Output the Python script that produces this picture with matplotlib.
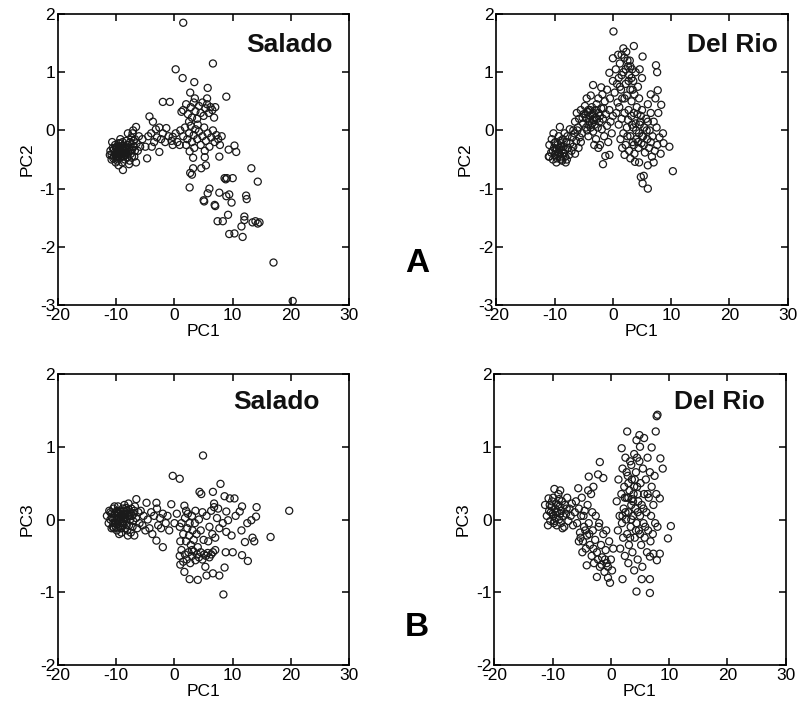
import numpy as np
import matplotlib.pyplot as plt

plt.rcParams['font.family'] = ['Liberation Sans', 'DejaVu Sans']
plt.rcParams['axes.unicode_minus'] = False

# Salado, PC1 vs PC2
sal_pc2 = [
    (-11.0,-0.35),(-10.8,-0.42),(-10.6,-0.30),(-10.5,-0.48),(-10.3,-0.38),(-10.2,-0.25),(-10.0,-0.45),
    (-9.9,-0.33),(-9.8,-0.52),(-9.7,-0.40),(-9.6,-0.28),(-9.5,-0.36),(-9.4,-0.47),(-9.3,-0.22),(-9.2,-0.41),
    (-9.1,-0.31),(-9.0,-0.55),(-8.9,-0.38),(-8.8,-0.45),(-8.7,-0.27),(-8.6,-0.35),(-8.5,-0.50),(-8.4,-0.42),
    (-8.3,-0.18),(-8.2,-0.33),(-8.1,-0.46),(-8.0,-0.25),(-7.9,-0.38),(-7.8,-0.30),(-7.7,-0.52),(-7.6,-0.20),
    (-7.5,-0.40),(-7.4,-0.12),(-7.3,-0.33),(-7.2,-0.05),(-7.0,-0.28),(-6.9,-0.45),(-6.8,-0.15),(-6.6,0.06),
    (-6.6,-0.55),(-6.5,-0.22),(-6.3,-0.35),(-6.1,-0.10),(-5.9,-0.28),(-9.6,-0.60),(-8.85,-0.68),(-10.1,-0.55),
    (-9.3,-0.15),(-8.0,-0.05),(-7.1,0.0),(-7.8,-0.58),(-10.7,-0.20),(-9.0,-0.30),(-8.6,-0.40),(-9.8,-0.38),
    (-10.4,-0.33),(-10.1,-0.40),(-9.9,-0.28),(-9.7,-0.45),(-9.5,-0.30),(-9.4,-0.40),(-9.2,-0.35),(-9.1,-0.45),
    (-8.9,-0.30),(-8.7,-0.40),(-8.5,-0.32),(-8.3,-0.38),(-8.2,-0.25),(-8.9,-0.20),(-9.6,-0.22),(-10.0,-0.30),
    (-10.4,-0.45),(-9.9,-0.48),(-9.0,-0.40),(-8.4,-0.30),(-7.6,-0.35),(-7.3,-0.45),(-7.0,-0.18),(-6.8,-0.35),
    (-10.8,-0.50),(-11.1,-0.42),
    (-5.5,-0.15),(-5.0,-0.28),(-4.7,-0.48),(-4.5,-0.10),(-4.3,0.24),(-4.0,-0.05),(-3.9,-0.28),(-3.7,0.15),
    (-3.5,-0.20),(-3.2,0.02),(-3.0,-0.12),(-2.6,0.05),(-2.6,-0.37),(-2.3,-0.15),(-2.0,0.49),(-2.0,-0.05),
    (-1.6,-0.20),(-1.4,0.04),(-1.0,-0.10),(-0.8,0.49),(-0.5,-0.18),(-0.3,-0.11),(-0.3,-0.25),(0.2,-0.05),
    (0.5,-0.20),(0.9,-0.25),(1.0,0.0),
    (1.5,1.85),(6.6,1.15),(0.2,1.05),(1.4,0.9),(3.4,0.83),(5.7,0.73),(2.7,0.65),(8.9,0.58),
    (1.5,0.35),(2.0,0.45),(2.3,0.28),(2.8,0.40),(3.0,0.22),(3.3,0.48),(3.6,0.33),(3.9,0.20),(4.2,0.42),
    (4.5,0.30),(4.8,0.48),(5.0,0.25),(5.3,0.38),(5.6,0.45),(5.9,0.30),(6.2,0.40),(6.5,0.35),(6.8,0.22),
    (7.0,0.40),(3.5,0.55),(5.6,0.55),(2.5,0.15),(1.2,0.32),
    (1.5,-0.10),(1.8,0.05),(2.2,-0.15),(2.5,-0.05),(2.8,0.08),(3.0,-0.20),(3.3,-0.08),(3.6,0.02),(3.9,-0.15),
    (4.2,-0.02),(4.5,-0.25),(4.8,-0.10),(5.1,0.05),(5.4,-0.18),(5.7,-0.05),(6.0,-0.28),(6.3,-0.12),(6.6,0.0),
    (6.9,-0.20),(7.2,-0.08),(7.5,-0.15),(7.8,-0.25),(8.1,-0.10),(3.4,-0.30),(4.0,0.10),(5.2,-0.35),(2.0,-0.25),
    (10.3,-0.26),(10.6,-0.37),(9.3,-0.33),(7.7,-0.45),(2.6,-0.36),(3.2,-0.47),(5.2,-0.46),(5.4,-0.60),
    (3.2,-0.65),(4.6,-0.65),(2.7,-0.73),(3.0,-0.76),(13.2,-0.65),(14.3,-0.88),(8.6,-0.82),(9.0,-0.82),
    (8.8,-0.84),(10.0,-0.82),(2.6,-0.98),(6.0,-1.0),(5.7,-1.08),(7.7,-1.07),(8.9,-1.13),(9.4,-1.1),
    (12.3,-1.12),(12.4,-1.18),(5.0,-1.2),(5.1,-1.22),(6.9,-1.28),(7.0,-1.30),(9.8,-1.24),(7.4,-1.56),
    (8.3,-1.56),(9.2,-1.45),(12.0,-1.48),(12.0,-1.54),(13.4,-1.58),(13.9,-1.56),(14.3,-1.60),(14.6,-1.58),
    (11.5,-1.65),(9.4,-1.78),(10.3,-1.77),(11.7,-1.83),(17.0,-2.27),(20.3,-2.93),
]

# Del Rio, PC1 vs PC2
del_pc2 = [
    (-11.0,-0.45),(-10.9,-0.25),(-10.6,-0.38),(-10.5,-0.15),(-10.3,-0.50),(-10.1,-0.30),(-10.0,-0.42),
    (-9.9,-0.20),(-9.8,-0.35),(-9.6,-0.48),(-9.5,-0.25),(-9.4,-0.38),(-9.3,-0.10),(-9.2,-0.30),(-9.1,0.06),
    (-9.0,-0.45),(-8.9,-0.22),(-8.8,-0.35),(-8.7,-0.52),(-8.6,-0.15),(-8.5,-0.28),(-8.4,-0.40),(-8.3,-0.05),
    (-8.2,-0.33),(-8.0,-0.20),(-7.9,-0.50),(-7.8,-0.10),(-7.7,-0.30),(-7.5,-0.42),(-7.4,0.02),(-7.3,-0.22),
    (-7.1,-0.35),(-7.0,-0.12),(-6.8,-0.28),(-6.6,-0.05),(-6.5,-0.40),(-6.3,-0.18),(-6.1,0.0),(-5.9,-0.30),
    (-5.7,-0.12),(-10.9,-0.45),(-9.7,-0.55),(-8.9,-0.50),(-8.1,-0.55),(-10.2,-0.05),
    (-10.3,-0.35),(-9.9,-0.42),(-9.6,-0.32),(-9.2,-0.40),(-8.8,-0.28),(-8.5,-0.38),(-9.0,-0.18),(-10.0,-0.22),
    (-8.2,-0.45),
    (-6.5,0.15),(-6.2,0.30),(-6.0,0.05),(-5.8,0.20),(-5.5,0.35),(-5.3,-0.05),(-5.1,0.12),(-5.0,0.28),
    (-4.8,0.42),(-4.6,0.05),(-4.5,0.20),(-4.3,0.32),(-4.2,-0.10),(-4.0,0.15),(-3.9,0.25),(-3.8,0.05),
    (-3.6,0.40),(-3.5,0.18),(-3.4,-0.02),(-3.3,0.30),(-3.1,0.10),(-3.0,0.22),(-2.9,-0.15),(-2.8,0.45),
    (-2.6,0.05),(-2.5,0.30),(-2.3,0.15),(-2.2,-0.25),(-2.0,0.38),(-1.9,0.02),(-1.7,0.20),(-1.5,-0.10),
    (-1.4,0.50),(-1.2,0.28),(-1.0,0.08),(-0.8,-0.20),(-0.6,0.35),(-0.4,0.15),(-0.2,-0.05),(0.0,0.25),
    (-4.5,0.55),(-3.8,0.60),(-5.5,-0.20),(-6.8,0.0),(-2.5,-0.30),(-3.2,-0.25),(-1.7,-0.58),(-0.6,-0.42),
    (-1.3,-0.44),(-4.2,0.35),(-3.6,0.12),(-2.7,0.20),
    (-4.7,0.28),(-4.2,0.10),(-3.9,0.35),(-3.5,0.28),(-3.2,0.18),(-2.9,0.35),(-4.4,0.00),(-5.2,0.22),
    (-2.2,0.25),(-1.6,0.38),
    (-3.4,0.78),(-2.0,0.74),(-0.6,0.99),(0.0,1.24),(0.9,1.30),(0.1,1.70),(1.8,1.41),(3.6,1.45),(5.1,1.27),
    (-2.5,0.55),(-1.8,0.62),(-1.0,0.70),(-0.5,0.55),(0.0,0.85),(0.3,0.65),(0.5,1.05),(0.8,0.48),(1.0,0.90),
    (1.2,1.15),(1.4,0.70),(1.6,0.55),(1.8,1.00),(2.0,1.25),(2.2,0.80),(2.4,0.60),(2.6,1.10),(2.8,0.95),
    (2.9,1.20),(3.0,0.70),(3.2,0.50),(3.3,1.05),(3.5,0.85),(3.7,0.62),(3.9,1.00),(4.1,0.40),(4.3,0.75),
    (4.5,0.55),(2.3,1.35),(1.5,1.30),(0.6,0.30),(1.1,0.40),(2.7,0.35),(3.6,0.30),(5.0,0.90),(4.6,1.05),
    (2.2,1.05),(2.5,1.20),(2.7,0.85),(3.0,1.10),(3.2,0.90),(1.5,0.95),(1.2,0.75),(0.7,0.80),(2.0,0.55),
    (3.4,0.70),
    (1.0,0.10),(1.3,-0.15),(1.5,0.20),(1.8,-0.05),(2.0,0.30),(2.2,-0.25),(2.4,0.05),(2.6,0.18),(2.8,-0.35),
    (3.0,-0.10),(3.2,0.25),(3.4,-0.20),(3.5,0.05),(3.7,-0.40),(3.9,0.12),(4.0,-0.15),(4.2,0.28),(4.4,-0.30),
    (4.5,-0.05),(4.7,0.15),(4.9,-0.22),(5.0,0.35),(5.2,-0.10),(5.4,0.05),(5.5,-0.38),(5.7,0.20),(5.9,-0.15),
    (6.0,0.45),(6.2,-0.30),(6.3,0.00),(6.5,0.30),(6.7,-0.45),(6.8,-0.10),(7.0,0.15),(7.2,-0.35),(7.3,0.55),
    (7.5,0.05),(7.6,-0.25),(7.8,0.30),(8.0,-0.12),(8.2,-0.40),(7.7,0.69),(8.3,0.44),(8.6,-0.05),(8.7,-0.22),
    (9.7,-0.28),(10.3,-0.70),(7.4,1.12),(7.6,1.0),(6.5,0.62),(7.0,-0.55),(6.0,-0.60),(3.8,-0.54),(4.5,-0.55),
    (6.0,-1.0),(5.3,-0.78),(4.8,-0.80),(5.1,-0.91),(2.0,-0.42),(3.0,-0.48),(1.6,-0.30),
    (4.0,0.00),(4.3,-0.20),(4.6,0.10),(5.0,-0.10),(5.3,-0.25),(4.8,0.25),(3.6,-0.25),(5.8,0.00),(6.5,-0.20),
    (3.3,0.10),(2.5,-0.10),(6.0,0.15),
]

# Salado, PC1 vs PC3
sal_pc3 = [
    (-11.6,0.05),(-11.3,-0.05),(-11.2,0.12),(-11.0,0.0),(-10.8,0.08),(-10.6,-0.10),(-10.5,0.15),(-10.3,0.02),
    (-10.2,-0.05),(-10.0,0.10),(-9.9,-0.15),(-9.8,0.05),(-9.7,0.18),(-9.6,-0.02),(-9.5,0.08),(-9.4,-0.10),
    (-9.3,0.12),(-9.2,0.00),(-9.1,-0.18),(-9.0,0.06),(-8.9,0.15),(-8.8,-0.05),(-8.7,0.03),(-8.6,0.20),
    (-8.5,-0.12),(-8.4,0.08),(-8.3,-0.02),(-8.2,0.12),(-8.1,-0.15),(-8.0,0.05),(-7.9,0.22),(-7.8,-0.08),
    (-7.7,0.10),(-7.6,0.00),(-7.5,-0.18),(-7.4,0.15),(-7.3,0.05),(-7.2,-0.10),(-7.0,0.08),(-6.9,-0.22),
    (-6.8,0.18),(-6.6,0.02),(-6.55,0.28),(-6.4,-0.12),(-6.2,0.10),(-6.0,-0.05),(-10.3,0.18),(-9.5,-0.20),
    (-8.0,-0.22),(-10.8,-0.12),(-9.8,0.0),(-9.0,-0.05),(-8.6,0.08),
    (-11.0,0.10),(-10.7,0.02),(-10.5,-0.05),(-10.3,0.08),(-10.1,-0.10),(-9.9,0.12),(-9.7,-0.06),(-9.5,0.02),
    (-9.3,0.05),(-9.1,0.10),(-8.9,-0.08),(-8.7,0.12),(-8.5,0.02),(-8.3,0.16),(-8.9,0.05),(-9.6,0.10),
    (-10.0,0.0),(-10.4,-0.12),(-9.2,-0.12),(-8.2,-0.08),(-7.8,0.04),(-7.5,0.08),(-7.1,-0.02),(-6.9,0.12),
    (-5.8,0.12),(-5.5,-0.08),(-5.3,0.05),(-5.0,-0.15),(-4.8,0.23),(-4.6,0.0),(-4.3,-0.12),(-4.0,0.10),
    (-3.8,-0.20),(-3.5,0.05),(-3.1,0.23),(-3.1,-0.29),(-3.0,0.15),(-2.8,-0.08),(-2.5,0.02),(-2.3,-0.12),
    (-2.0,-0.38),(-2.0,0.08),(-1.5,-0.05),(-1.2,0.05),(-0.9,-0.15),(-0.55,0.21),(-0.3,0.60),(0.0,-0.05),
    (0.4,0.08),(0.9,0.56),(0.9,-0.10),
    (1.2,-0.05),(1.5,-0.20),(1.7,0.19),(1.8,0.02),(2.0,-0.30),(2.2,-0.12),(2.3,0.08),(2.5,-0.22),(2.6,-0.05),
    (2.8,-0.35),(3.0,0.05),(3.1,-0.15),(3.3,-0.28),(3.5,-0.05),(3.6,0.12),(3.8,-0.20),(4.0,-0.38),(4.2,0.00),
    (4.5,-0.15),(4.8,0.10),(5.0,-0.28),(1.0,-0.30),(2.0,0.12),(3.0,-0.42),
    (0.9,-0.50),(1.2,-0.42),(1.5,-0.58),(1.8,-0.48),(2.1,-0.55),(2.4,-0.45),(2.7,-0.60),(3.0,-0.50),
    (3.3,-0.44),(3.6,-0.56),(3.9,-0.48),(4.2,-0.52),(4.5,-0.45),(4.8,-0.55),(5.1,-0.48),(5.4,-0.50),
    (5.7,-0.46),(6.0,-0.52),(6.3,-0.48),(6.6,-0.45),(7.0,-0.42),(1.0,-0.62),(1.7,-0.72),(2.6,-0.82),
    (4.0,-0.83),(5.5,-0.77),(6.6,-0.74),(7.7,-0.77),(8.6,-0.66),(8.4,-1.03),(5.3,-0.65),
    (4.9,0.88),(7.9,0.49),(4.3,0.38),(4.6,0.35),(6.6,0.38),(8.6,0.32),(9.5,0.29),(10.3,0.29),(6.8,0.22),
    (6.8,0.17),(11.6,0.18),(11.2,0.11),(14.1,0.17),(19.7,0.12),(10.0,-0.45),(8.8,-0.45),(11.6,-0.49),
    (12.6,-0.57),(12.1,-0.31),(13.4,-0.25),(13.7,-0.30),(16.5,-0.24),(11.5,-0.15),(12.5,-0.05),(13.2,-0.01),
    (14.0,0.04),(8.9,0.11),(9.2,-0.01),(8.3,-0.05),(7.7,-0.12),(8.9,-0.17),(5.5,0.05),(6.0,-0.10),(6.3,0.12),
    (7.0,-0.25),(7.3,0.02),(5.8,-0.30),(6.5,-0.20),(7.5,0.15),(9.8,-0.22),(10.5,0.05),
]

# Del Rio, PC1 vs PC3
del_pc3 = [
    (-11.3,0.20),(-11.0,0.05),(-10.7,0.29),(-10.6,0.12),(-10.4,-0.02),(-10.2,0.18),(-10.0,0.08),(-9.9,0.30),
    (-9.8,-0.05),(-9.6,0.15),(-9.5,0.02),(-9.4,0.22),(-9.3,-0.08),(-9.2,0.10),(-9.0,0.35),(-8.9,0.00),
    (-8.8,0.18),(-8.7,0.40),(-8.6,-0.05),(-8.5,0.12),(-8.4,0.25),(-8.2,0.05),(-8.0,-0.10),(-7.9,0.20),
    (-7.7,0.08),(-7.5,0.30),(-7.3,-0.02),(-7.1,0.15),(-6.9,0.05),(-6.7,0.22),(-6.5,-0.08),(-10.8,-0.08),
    (-9.7,0.42),(-8.3,-0.12),(-10.1,0.25),
    (-10.3,0.10),(-9.9,0.05),(-9.5,0.10),(-9.1,0.20),(-8.7,0.08),(-9.7,-0.02),(-10.5,0.20),(-8.9,0.28),
    (-7.6,0.15),
    (-6.2,0.10),(-6.0,0.25),(-5.8,-0.05),(-5.6,0.43),(-5.5,0.15),(-5.3,-0.18),(-5.1,0.05),(-5.0,0.30),
    (-4.8,-0.30),(-4.6,-0.10),(-4.5,0.12),(-4.3,-0.40),(-4.15,-0.63),(-4.1,-0.22),(-4.0,0.20),(-3.8,0.59),
    (-3.8,-0.05),(-3.6,-0.35),(-3.4,0.35),(-3.3,-0.50),(-3.1,-0.15),(-3.0,0.45),(-2.9,-0.60),(-2.7,-0.28),
    (-2.6,0.05),(-2.4,-0.79),(-2.4,-0.45),(-2.2,0.62),(-2.1,-0.10),(-1.9,0.79),(-1.9,-0.65),(-1.7,-0.35),
    (-1.5,-0.52),(-1.3,0.57),(-1.3,-0.20),(-1.1,-0.72),(-0.9,-0.42),(-0.7,-0.60),(-0.5,-0.80),(-0.3,-0.30),
    (-0.15,-0.87),(0.0,-0.55),(0.2,-0.70),(0.4,-0.40),(-4.9,-0.45),(-3.2,0.10),(-2.0,-0.05),(-0.8,-0.15),
    (-5.5,-0.30),
    (-5.2,-0.25),(-4.4,-0.15),(-3.7,-0.20),(-3.0,-0.40),(-2.2,-0.55),(-1.6,-0.62),(-1.0,-0.55),(-0.5,-0.65),
    (-4.7,0.05),(-3.9,0.40),
    (1.0,0.25),(1.2,-0.15),(1.3,0.55),(1.5,0.05),(1.6,-0.40),(1.8,0.35),(1.85,0.98),(1.9,-0.05),(2.0,0.70),
    (2.1,-0.25),(2.2,0.15),(2.3,0.45),(2.4,-0.50),(2.5,0.85),(2.6,0.00),(2.7,0.30),(2.8,-0.20),(2.9,0.60),
    (3.0,0.10),(3.1,-0.35),(3.2,0.40),(3.3,0.80),(3.4,-0.10),(3.5,0.20),(3.6,0.55),(3.7,-0.45),(3.8,0.05),
    (3.9,0.35),(4.0,0.90),(4.1,-0.25),(4.2,0.15),(4.3,0.65),(4.4,-0.05),(4.5,0.45),(4.6,-0.55),(4.7,0.25),
    (4.8,-0.15),(4.9,0.80),(5.0,0.05),(5.1,0.50),(5.2,-0.35),(5.3,0.20),(5.4,-0.65),(5.5,0.70),(5.6,-0.05),
    (5.7,0.35),(5.8,-0.25),(6.0,0.55),(6.1,0.10),(6.2,-0.45),(6.3,0.85),(6.4,-0.15),(6.5,0.30),(6.7,0.65),
    (6.8,-0.30),(6.9,0.05),(7.0,0.45),(7.2,-0.20),(7.3,0.20),(7.5,0.60),(7.6,-0.05),(7.8,0.35),(8.0,-0.10),
    (2.8,1.21),(4.9,1.16),(4.4,1.09),(5.7,1.12),(7.7,1.21),(5.0,1.0),(7.0,0.99),(7.86,1.42),(8.0,1.44),
    (8.5,0.84),(8.9,0.70),(8.4,0.29),(10.3,-0.09),(9.8,-0.26),(4.4,-0.99),(6.7,-1.01),(5.3,-0.82),(6.7,-0.82),
    (2.0,-0.82),(7.3,-0.47),(7.9,-0.56),(6.7,-0.51),(8.4,-0.47),(3.0,-0.60),(4.0,-0.70),(2.5,0.10),(3.6,0.28),
    (4.6,0.10),(3.0,0.50),(4.0,0.45),
    (3.0,0.30),(3.5,0.00),(3.8,0.25),(4.1,0.55),(4.3,-0.15),(4.6,0.35),(2.7,0.65),(3.3,-0.25),(5.0,-0.20),
    (5.6,0.15),(2.4,0.30),(2.0,0.05),(6.3,0.35),(5.9,-0.10),(3.5,0.75),(4.5,0.85),
]

panels = [
    (sal_pc2, 'Salado', 'PC2', (-3, 2), [0.0725, 0.5716, 0.364, 0.4087], 0.943, 0.895),
    (del_pc2, 'Del Rio', 'PC2', (-3, 2), [0.6205, 0.5716, 0.364, 0.4087], 0.966, 0.895),
    (sal_pc3, 'Salado', 'PC3', (-2, 2), [0.0725, 0.066, 0.364, 0.4087], 0.90, 0.905),
    (del_pc3, 'Del Rio', 'PC3', (-2, 2), [0.6180, 0.066, 0.364, 0.4087], 0.928, 0.905),
]

fig = plt.figure(figsize=(8, 7.12), dpi=100)

for pts, name, ylab, ylim, rect, tx, ty in panels:
    ax = fig.add_axes(rect)
    arr = np.array(pts)
    ax.scatter(arr[:, 0], arr[:, 1], s=26, facecolors='none',
               edgecolors='#1a1a1a', linewidths=0.9)
    ax.set_xlim(-20, 30)
    ax.set_ylim(*ylim)
    ax.set_xticks(range(-20, 31, 10))
    ax.set_yticks(range(ylim[0], ylim[1] + 1))
    ax.tick_params(direction='in', top=True, right=True, length=5,
                   width=1.1, labelsize=12.5, pad=2)
    for sp in ax.spines.values():
        sp.set_linewidth(1.2)
    ax.set_xlabel('PC1', fontsize=12.5, labelpad=1)
    ax.set_ylabel(ylab, fontsize=12.5, labelpad=4)
    ax.text(tx, ty, name, transform=ax.transAxes, ha='right', va='center',
            fontsize=19, fontweight='bold', color='#111111')

fig.text(0.521, 1 - 264 / 712, 'A', ha='center', va='center', fontsize=24, fontweight='bold')
fig.text(0.521, 1 - 628 / 712, 'B', ha='center', va='center', fontsize=24, fontweight='bold')

fig.savefig('out.png', dpi=100)
